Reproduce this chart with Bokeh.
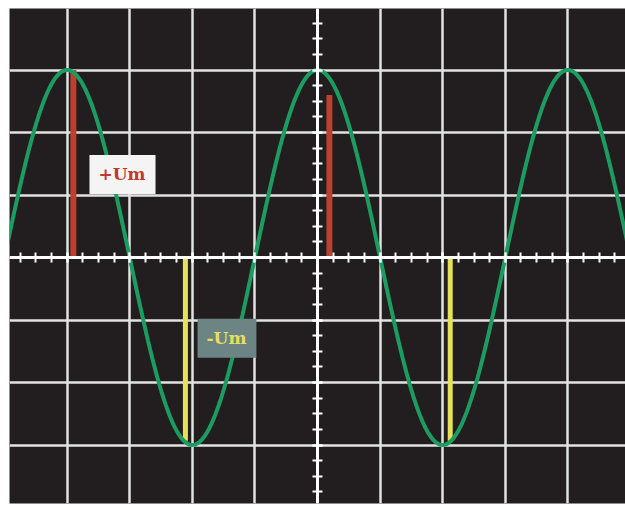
import numpy as np
from bokeh.plotting import figure
from bokeh.models import LinearAxis, SingleIntervalTicker, Range1d, Label
from bokeh.embed import file_html
from bokeh.resources import INLINE

# ---- data (grid divisions) ----
amplitude = 3.0          # peak value, divisions
period = 4.0             # divisions per cycle
phase_peak = 0.0         # a positive peak sits on the vertical axis
x_start, x_end = -5.0, 4.95

# peak markers
pos_x = [-3.9, 0.19]
pos_top = [3.0, 2.6]
neg_x = [-2.11, 2.12]
neg_bottom = [-2.93, -2.93]

labels = ["+Um", "-Um"]
label_x = [-3.115, -1.446]
label_y = [1.33, -1.29]

xs = np.linspace(x_start, x_end, 600)
ys = amplitude * np.cos(2 * np.pi * (xs - phase_peak) / period)

BG = "#221e1f"
GRID = "#e2e2e2"

p = figure(width=625, height=505, output_backend="svg", toolbar_location=None,
           x_range=Range1d(-4.92, 4.92), y_range=Range1d(-3.936, 3.984),
           x_axis_location=None, y_axis_location=None,
           min_border_left=9, min_border_top=8, min_border_right=0, min_border_bottom=2,
           background_fill_color=BG, border_fill_color="white")
p.outline_line_color = None

ticker = SingleIntervalTicker(interval=1, num_minor_ticks=4)
p.xgrid.ticker = ticker
p.ygrid.ticker = ticker
for g in (p.xgrid, p.ygrid):
    g.grid_line_color = GRID
    g.grid_line_width = 2.5

# red +Um bars
p.segment(x0=pos_x, y0=[0, 0], x1=pos_x, y1=pos_top, line_color="#b9412f", line_width=6)
# yellow -Um bars
p.segment(x0=neg_x, y0=[0, 0], x1=neg_x, y1=neg_bottom, line_color="#e6e05a", line_width=5)

# sine wave
p.line(xs, ys, line_color="#1c9c60", line_width=4)

# central axes with ticks
xa = LinearAxis(ticker=SingleIntervalTicker(interval=1, num_minor_ticks=4), fixed_location=0)
ya = LinearAxis(ticker=SingleIntervalTicker(interval=1, num_minor_ticks=4), fixed_location=0)
for a in (xa, ya):
    a.axis_line_color = "white"
    a.axis_line_width = 3
    a.major_tick_line_color = "white"
    a.minor_tick_line_color = "white"
    a.major_tick_line_width = 2
    a.minor_tick_line_width = 2
    a.major_tick_in = 5
    a.major_tick_out = 5
    a.minor_tick_in = 5
    a.minor_tick_out = 5
    a.major_label_text_font_size = "0pt"
    a.major_label_text_color = None
p.add_layout(xa, "below")
p.add_layout(ya, "left")

# labels
p.add_layout(Label(x=label_x[0], y=label_y[0], text=labels[0], text_align="center",
                   text_baseline="middle", text_font="DejaVu Serif", text_font_style="bold",
                   text_font_size="17px", text_color="#c0392b",
                   background_fill_color="#f4f4f4", padding=[9, 10, 9, 10]))
p.add_layout(Label(x=label_x[1], y=label_y[1], text=labels[1], text_align="center",
                   text_baseline="middle", text_font="DejaVu Serif", text_font_style="bold",
                   text_font_size="17px", text_color="#e8e05c",
                   background_fill_color="#6c8584", padding=[9, 10, 9, 10]))

open("out.html", "w").write(file_html(p, INLINE))
